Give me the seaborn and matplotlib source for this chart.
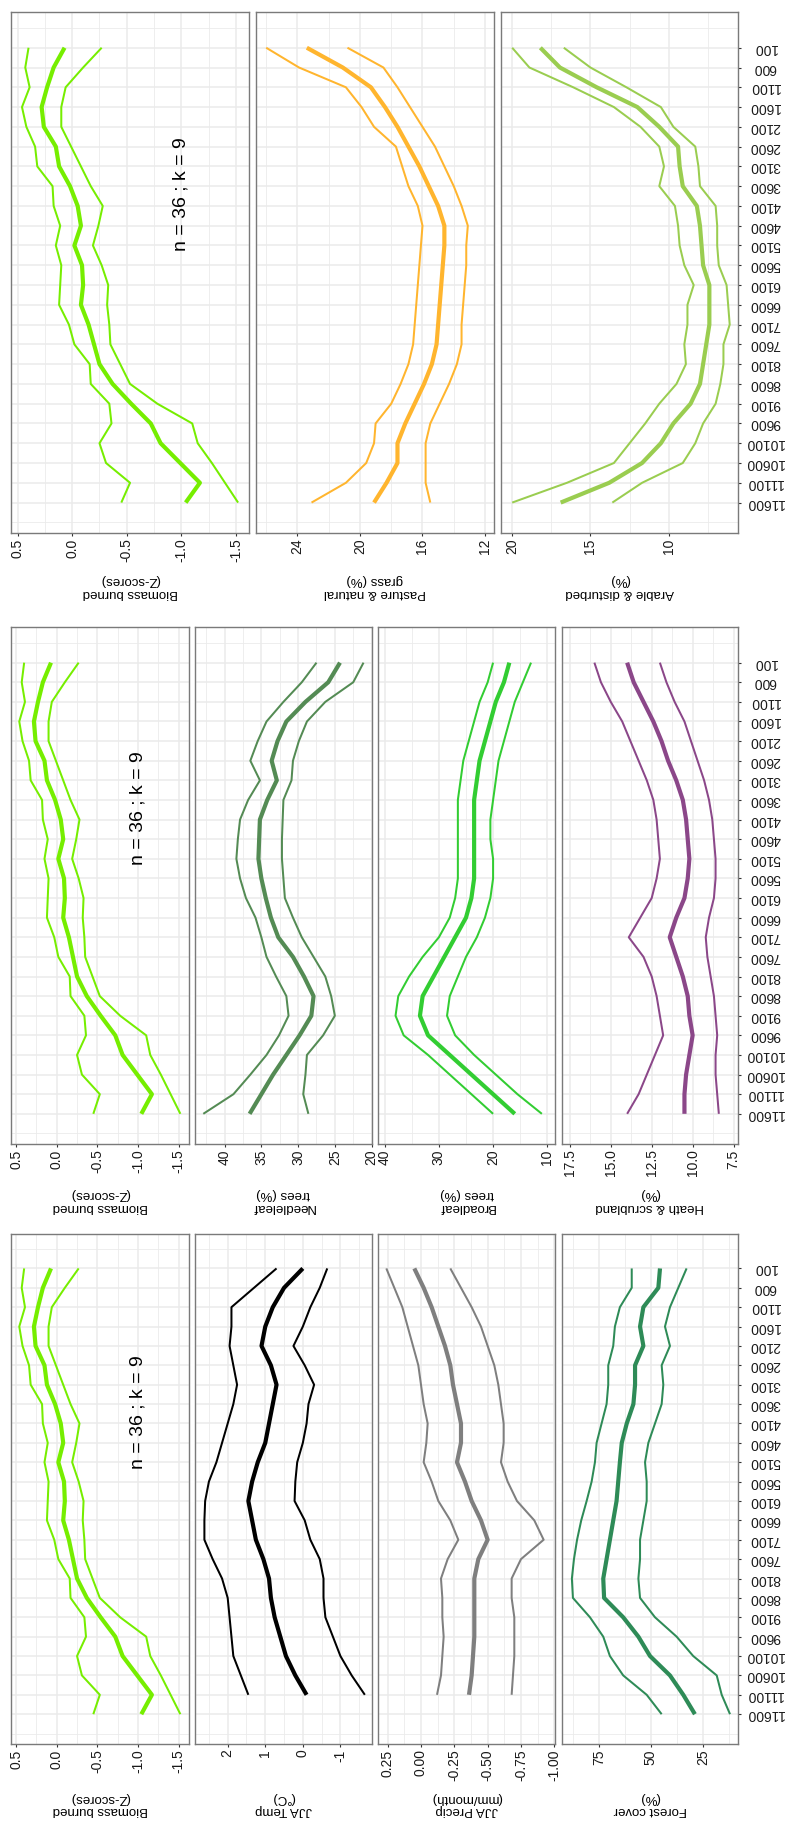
import numpy as np
import pandas as pd
import matplotlib
matplotlib.use("Agg")
import matplotlib.pyplot as plt
import seaborn as sns

# ---------------- data ----------------
ages = [100, 600, 1100, 1600, 2100, 2600, 3100, 3600, 4100, 4600, 5100, 5600,
        6100, 6600, 7100, 7600, 8100, 8600, 9100, 9600, 10100, 10600, 11100, 11600]
age_labels = [str(a) for a in ages]

bio_mean = [0.07, 0.17, 0.23, 0.28, 0.26, 0.15, 0.12, 0.02, -0.05, -0.08, -0.02, -0.09,
            -0.10, -0.08, -0.15, -0.20, -0.25, -0.37, -0.54, -0.72, -0.81, -0.99, -1.17, -1.04]
bio_hi = [0.40, 0.43, 0.39, 0.46, 0.42, 0.34, 0.32, 0.18, 0.17, 0.11, 0.15, 0.10,
          0.11, 0.12, 0.03, -0.02, -0.16, -0.17, -0.34, -0.36, -0.25, -0.31, -0.53, -0.45]
bio_lo = [-0.27, -0.10, 0.06, 0.10, 0.10, 0.01, -0.08, -0.17, -0.28, -0.24, -0.19, -0.27,
          -0.33, -0.32, -0.34, -0.35, -0.44, -0.53, -0.78, -1.10, -1.15, -1.28, -1.40, -1.52]

temp_mean = [0.0, 0.5, 0.8, 1.0, 1.1, 0.85, 0.7, 0.8, 0.9, 1.0, 1.2, 1.35,
             1.45, 1.35, 1.25, 1.05, 0.9, 0.85, 0.75, 0.6, 0.45, 0.2, -0.1, np.nan]
temp_hi = [0.7, 1.3, 1.9, 1.9, 1.95, 1.85, 1.75, 1.85, 2.0, 2.15, 2.3, 2.5,
           2.6, 2.62, 2.62, 2.4, 2.15, 2.0, 1.95, 1.9, 1.85, 1.65, 1.45, np.nan]
temp_lo = [-0.65, -0.45, -0.2, 0.0, 0.25, -0.05, -0.3, -0.15, -0.1, 0.0, 0.15, 0.2,
           0.22, -0.05, -0.2, -0.45, -0.55, -0.55, -0.6, -0.8, -1.0, -1.3, -1.65, np.nan]

prec_mean = [0.05, -0.02, -0.08, -0.13, -0.18, -0.22, -0.24, -0.27, -0.30, -0.30, -0.27, -0.33,
             -0.38, -0.45, -0.50, -0.43, -0.40, -0.40, -0.40, -0.40, -0.39, -0.38, -0.36, np.nan]
prec_hi = [0.26, 0.20, 0.14, 0.10, 0.06, 0.02, 0.00, -0.02, -0.05, -0.04, -0.02, -0.08,
           -0.13, -0.22, -0.28, -0.20, -0.15, -0.16, -0.16, -0.17, -0.16, -0.15, -0.12, np.nan]
prec_lo = [-0.22, -0.30, -0.38, -0.45, -0.50, -0.55, -0.58, -0.60, -0.62, -0.62, -0.60, -0.65,
           -0.72, -0.85, -0.92, -0.75, -0.68, -0.68, -0.70, -0.70, -0.70, -0.69, -0.68, np.nan]

forest_mean = [45.6, 46.4, 53.6, 55.2, 53.6, 57.6, 57.6, 58.4, 61.6, 64.0, 64.9, 65.7,
               66.5, 68.1, 69.7, 71.3, 72.9, 72.5, 63.3, 56.0, 50.4, 40.8, 34.4, 28.8]
forest_hi = [59.2, 59.2, 64.9, 67.3, 68.1, 70.5, 70.5, 71.3, 73.7, 76.1, 76.9, 78.5,
             80.9, 83.5, 85.5, 87.0, 88.0, 87.5, 79.3, 72.9, 69.7, 63.3, 52.0, 44.8]
forest_lo = [32.8, 36.8, 40.8, 43.2, 40.8, 44.8, 44.0, 44.8, 48.0, 51.2, 52.8, 52.0,
             52.0, 53.6, 55.2, 55.2, 56.0, 55.2, 48.0, 37.6, 29.6, 18.3, 15.9, 11.9]

needle_mean = [24.3, 25.9, 29.0, 31.6, 32.8, 33.6, 32.9, 34.2, 35.2, 35.3, 35.4, 35.0,
               34.4, 33.7, 32.7, 30.7, 29.2, 27.9, 28.2, 29.8, 31.6, 33.4, 35.0, 36.6]
needle_hi = [27.5, 29.5, 32.0, 34.3, 35.5, 36.5, 35.2, 36.8, 37.9, 38.2, 38.4, 37.9,
             37.1, 35.8, 35.0, 34.3, 33.0, 31.6, 31.3, 32.6, 34.3, 36.5, 38.8, 42.9]
needle_lo = [21.1, 22.5, 26.3, 28.8, 29.9, 30.7, 30.9, 32.0, 32.1, 32.2, 32.2, 32.0,
             31.8, 30.7, 29.5, 27.9, 26.3, 25.5, 25.0, 26.6, 28.8, 29.0, 29.3, 28.6]

broad_mean = [17.0, 18.0, 19.5, 20.5, 21.5, 22.5, 23.0, 23.5, 23.5, 23.5, 23.5, 23.5,
              24.0, 25.0, 27.0, 29.0, 31.0, 33.0, 33.5, 32.0, 28.0, 24.0, 20.0, 16.0]
broad_hi = [20.0, 21.0, 22.5, 23.5, 24.5, 25.5, 26.0, 26.5, 26.5, 26.5, 26.5, 26.5,
            27.0, 28.0, 30.0, 33.0, 35.5, 37.5, 38.0, 36.5, 32.0, 28.0, 24.0, 20.0]
broad_lo = [13.0, 14.5, 16.0, 17.0, 18.0, 19.0, 19.5, 20.0, 20.5, 20.5, 20.0, 20.0,
            20.5, 21.5, 23.0, 25.0, 26.5, 28.0, 28.5, 27.0, 23.5, 19.5, 15.5, 11.0]

heath_mean = [14.0, 13.6, 13.0, 12.4, 11.9, 11.5, 11.0, 10.6, 10.4, 10.3, 10.2, 10.3,
              10.5, 11.0, 11.4, 11.0, 10.6, 10.3, 10.2, 10.0, 10.2, 10.4, 10.5, 10.5]
heath_hi = [16.0, 15.6, 15.0, 14.3, 13.8, 13.3, 12.8, 12.4, 12.2, 12.1, 12.0, 12.2,
            12.5, 13.2, 13.9, 13.0, 12.5, 12.2, 12.0, 11.8, 12.3, 12.8, 13.3, 14.0]
heath_lo = [12.0, 11.6, 11.1, 10.5, 10.1, 9.7, 9.3, 9.0, 8.8, 8.7, 8.6, 8.6,
            8.7, 9.0, 9.2, 9.1, 8.9, 8.7, 8.6, 8.5, 8.6, 8.6, 8.5, 8.4]

past_mean = [23.4, 21.1, 19.3, 18.4, 17.6, 16.9, 16.2, 15.6, 15.0, 14.6, 14.6, 14.7,
             14.8, 14.9, 15.0, 15.1, 15.4, 15.9, 16.5, 17.1, 17.6, 17.6, 18.3, 19.1]
past_hi = [26.0, 23.9, 20.9, 19.9, 19.1, 17.7, 17.3, 16.9, 16.3, 16.0, 16.1, 16.2,
           16.3, 16.4, 16.5, 16.6, 16.9, 17.4, 18.0, 19.0, 19.1, 19.6, 20.9, 23.1]
past_lo = [20.8, 18.5, 17.6, 16.8, 16.0, 15.2, 14.6, 14.0, 13.5, 13.1, 13.2, 13.2,
           13.3, 13.4, 13.5, 13.5, 13.8, 14.3, 14.9, 15.5, 15.8, 15.8, 15.8, 15.5]

arable_mean = [18.2, 16.95, 14.6, 12.0, 10.6, 9.4, 9.3, 9.1, 8.2, 8.0, 7.9, 7.8,
               7.4, 7.4, 7.4, 7.6, 7.8, 8.0, 8.6, 9.7, 10.5, 11.7, 13.8, 16.9]
arable_hi = [20.0, 18.9, 16.1, 13.5, 11.8, 10.6, 10.3, 10.6, 9.6, 9.4, 9.3, 9.0,
             8.4, 8.8, 8.8, 9.0, 8.9, 9.5, 10.6, 11.5, 12.5, 13.5, 16.5, 20.0]
arable_lo = [16.7, 15.0, 12.7, 10.5, 9.7, 8.3, 8.1, 8.0, 7.0, 6.9, 6.9, 6.8,
             6.3, 6.2, 6.1, 6.5, 6.5, 6.7, 7.0, 7.8, 8.3, 9.1, 11.7, 13.6]

annotation = "n = 36 ; k = 9"

# ---------------- style ----------------
sns.set_style("white")
plt.rcParams["font.family"] = ["Liberation Sans", "DejaVu Sans"]

W, H = 787, 1821
fig = plt.figure(figsize=(W / 100, H / 100), dpi=100)

GRID = "#EBEBEB"
BORDER = "#7A7A7A"
TICKC = "#333333"


def spec(label, mean, hi, lo, color, lim, ticks, tlabels, minor):
    return dict(label=label, mean=mean, hi=hi, lo=lo, color=color, lim=lim,
                ticks=ticks, tlabels=tlabels, minor=minor)


BIO = spec("Biomass burned\n(Z-scores)", bio_mean, bio_hi, bio_lo, "#76EE00", (0.558, -1.62),
           [0.5, 0.0, -0.5, -1.0, -1.5], ["0.5", "0.0", "-0.5", "-1.0", "-1.5"],
           [0.25, -0.25, -0.75, -1.25])
TEMP = spec("JJA Temp\n(°C)", temp_mean, temp_hi, temp_lo, "#000000", (2.87, -1.83),
            [2, 1, 0, -1], ["2", "1", "0", "-1"], [2.5, 1.5, 0.5, -0.5, -1.5])
PREC = spec("JJA Precip\n(mm/month)", prec_mean, prec_hi, prec_lo, "#7F7F7F", (0.321, -1.0075),
            [0.25, 0.0, -0.25, -0.5, -0.75, -1.0],
            ["0.25", "0.00", "-0.25", "-0.50", "-0.75", "-1.00"],
            [0.125, -0.125, -0.375, -0.625, -0.875])
FOREST = spec("Forest cover\n(%)", forest_mean, forest_hi, forest_lo, "#2E8B57", (92.85, 8.06),
              [75, 50, 25], ["75", "50", "25"], [87.5, 62.5, 37.5, 12.5])
NEEDLE = spec("Needleleaf\ntrees (%)", needle_mean, needle_hi, needle_lo, "#548B54", (44.03, 20.0),
              [40, 35, 30, 25, 20], ["40", "35", "30", "25", "20"], [42.5, 37.5, 32.5, 27.5, 22.5])
BROAD = spec("Broadleaf\ntrees (%)", broad_mean, broad_hi, broad_lo, "#32CD32", (41.2, 8.52),
             [40, 30, 20, 10], ["40", "30", "20", "10"], [35, 25, 15])
HEATH = spec("Heath & scrubland\n(%)", heath_mean, heath_hi, heath_lo, "#8B4789", (17.99, 7.23),
             [17.5, 15.0, 12.5, 10.0, 7.5], ["17.5", "15.0", "12.5", "10.0", "7.5"],
             [16.25, 13.75, 11.25, 8.75])
PAST = spec("Pasture & natural\ngrass (%)", past_mean, past_hi, past_lo, "#FFB52E", (26.64, 11.45),
            [24, 20, 16, 12], ["24", "20", "16", "12"], [26, 22, 18, 14])
ARAB = spec("Arable & disturbed\n(%)", arable_mean, arable_hi, arable_lo, "#9ACD50", (20.74, 5.57),
            [20, 15, 10], ["20", "15", "10"], [17.5, 12.5, 7.5])

xs3 = [(11.3, 249.0), (256.2, 493.6), (500.6, 738.0)]
xs4 = [(11.3, 188.5), (195.0, 371.6), (378.2, 555.3), (561.8, 738.0)]
blocks = [
    dict(y=(12.3, 533.3), xs=xs3, specs=[BIO, PAST, ARAB], lab_off=41),
    dict(y=(627.5, 1144.3), xs=xs4, specs=[BIO, NEEDLE, BROAD, HEATH], lab_off=44),
    dict(y=(1233.7, 1744.3), xs=xs4, specs=[BIO, TEMP, PREC, FOREST], lab_off=47.5),
]

AGE_LIM = (12377, -796)
TICK_LEN = 2.2  # points (~3 px)

for blk in blocks:
    y0, y1 = blk["y"]
    n = len(blk["specs"])
    for j, (sp, (x0, x1)) in enumerate(zip(blk["specs"], blk["xs"])):
        ax = fig.add_axes([x0 / W, 1 - y1 / H, (x1 - x0) / W, (y1 - y0) / H])
        ax.set_axisbelow(True)
        for key, lw in (("hi", 1.45), ("lo", 1.45), ("mean", 3.0)):
            df = pd.DataFrame({"value": sp[key], "age": ages}).dropna()
            sns.lineplot(data=df, x="value", y="age", sort=False, estimator=None,
                         color=sp["color"], linewidth=lw, ax=ax, legend=False,
                         solid_capstyle="butt", solid_joinstyle="round")
        ax.set_xlim(*sp["lim"])
        ax.set_ylim(*AGE_LIM)
        # value axis (bottom)
        ax.set_xticks(sp["ticks"])
        ax.set_xticklabels(sp["tlabels"], rotation=90)
        ax.set_xticks(sp["minor"], minor=True)
        ax.tick_params(axis="x", which="major", length=TICK_LEN, width=0.8, color=TICKC,
                       labelsize=10, labelcolor="#1a1a1a", pad=1.5, bottom=True)
        ax.tick_params(axis="x", which="minor", length=0)
        # age axis
        ax.set_yticks(ages)
        ax.set_yticks([-400, 12100], minor=True)
        ax.tick_params(axis="y", which="minor", length=0, left=False, right=False)
        if j == n - 1:
            ax.yaxis.tick_right()
            ax.tick_params(axis="y", which="major", length=TICK_LEN, width=0.8, color=TICKC,
                           labelsize=10, labelcolor="#1a1a1a", pad=17.2,
                           right=True, left=False, labelright=True, labelleft=False)
            ax.set_yticklabels(age_labels, rotation=180, ha="center", va="center")
        else:
            ax.tick_params(axis="y", which="both", length=0, left=False, right=False,
                           labelleft=False, labelright=False)
        ax.grid(which="major", color=GRID, linewidth=1.1)
        ax.grid(which="minor", color=GRID, linewidth=0.6)
        for s in ax.spines.values():
            s.set_visible(True)
            s.set_color(BORDER)
            s.set_linewidth(1.0)
        ax.set_ylabel("")
        ax.set_xlabel(sp["label"], rotation=180, fontsize=9.5, color="black",
                      linespacing=1.05)
        ax.xaxis.set_label_coords(0.5, -blk["lab_off"] / (y1 - y0))
        ax.xaxis.label.set_va("top")
        if j == 0:
            ax.text(-1.0, 3800, annotation, rotation=90, ha="center", va="center",
                    fontsize=14, color="black")

fig.savefig("out.png", dpi=100)
